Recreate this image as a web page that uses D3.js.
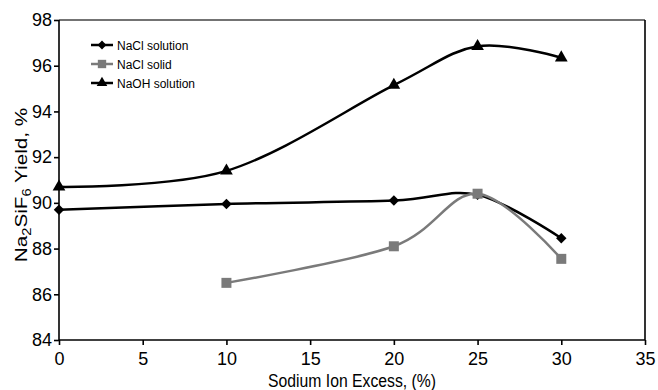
<!DOCTYPE html>
<html><head><meta charset="utf-8">
<script src="https://cdn.jsdelivr.net/npm/d3@7"></script>
<style>body{margin:0;background:#fff}svg{display:block}text{font-family:"Liberation Sans",Arial,sans-serif}</style>
</head><body>
<svg id="c" width="658" height="390"></svg>
<script>
const xTicks = [0,5,10,15,20,25,30,35];
const yTicks = [84,86,88,90,92,94,96,98];
const naclSolX = [0,10,20,25,30];
const naclSolY = [89.7,89.95,90.1,90.35,88.45];
const naclSolidX = [10,20,25,30];
const naclSolidY = [86.5,88.1,90.4,87.55];
const naohX = [0,10,20,25,30];
const naohY = [90.7,91.4,95.15,96.85,96.35];
const seriesNames = ["NaCl solution","NaCl solid","NaOH solution"];

const svg = d3.select("#c");
const m = {l:59, r:13, t:20, b:50};
const W = 658, H = 390;
const x = d3.scaleLinear().domain([0,35]).range([m.l, W-m.r]);
const y = d3.scaleLinear().domain([84,98]).range([H-m.b, m.t]);

// frame top/right
svg.append("line").attr("x1",x(0)).attr("x2",x(35)).attr("y1",y(98)).attr("y2",y(98)).attr("stroke","#444").attr("stroke-width",1.6);
svg.append("line").attr("x1",x(35)).attr("x2",x(35)).attr("y1",y(98)).attr("y2",y(84)).attr("stroke","#000").attr("stroke-width",1.6);

const xa = svg.append("g").attr("transform",`translate(0,${y(84)})`).call(d3.axisBottom(x).tickValues(xTicks).tickSize(5).tickPadding(7));
const ya = svg.append("g").attr("transform",`translate(${x(0)},0)`).call(d3.axisLeft(y).tickValues(yTicks).tickSize(5).tickPadding(2));
[xa,ya].forEach(a=>{a.selectAll("path,line").attr("stroke","#000").attr("stroke-width",1.6);a.selectAll("text").attr("font-size",18).attr("fill","#000").attr("font-family","Liberation Sans, Arial, sans-serif");});
xa.select(".domain").attr("d",`M${x(0)},0H${x(35)}`);
ya.select(".domain").attr("d",`M0,${y(98)}V${y(84)}`);

svg.append("text").attr("x",352).attr("y",H-3).attr("text-anchor","middle").attr("font-size",17.5)
  .attr("textLength",168).attr("lengthAdjust","spacingAndGlyphs").text("Sodium Ion Excess, (%)");
const yt = svg.append("text").attr("transform",`translate(27,185) rotate(-90) scale(1.22,1)`).attr("text-anchor","middle").attr("font-size",17);
yt.append("tspan").text("Na");
yt.append("tspan").attr("font-size",12).attr("dy",4).text("2");
yt.append("tspan").attr("dy",-4).text("SiF");
yt.append("tspan").attr("font-size",12).attr("dy",4).text("6");
yt.append("tspan").attr("dy",-4).text(" Yield, %");

const line = d3.line().x(d=>x(d[0])).y(d=>y(d[1])).curve(d3.curveCardinal.tension(0));
const series = [
  {name:seriesNames[0], xs:naclSolX, ys:naclSolY, color:"#000", sym:d3.symbolDiamond2, size:70},
  {name:seriesNames[1], xs:naclSolidX, ys:naclSolidY, color:"#7a7a7a", sym:d3.symbolSquare, size:100},
  {name:seriesNames[2], xs:naohX, ys:naohY, color:"#000", sym:d3.symbolTriangle, size:70}
];
series.forEach(s=>{
  const pts = s.xs.map((v,i)=>[v,s.ys[i]]);
  svg.append("path").attr("d",line(pts)).attr("fill","none").attr("stroke",s.color).attr("stroke-width",2.5);
  svg.selectAll(null).data(pts).enter().append("path")
    .attr("d",d3.symbol().type(s.sym).size(s.size))
    .attr("transform",d=>`translate(${x(d[0])},${y(d[1])})`).attr("fill",s.color);
});

// legend
series.forEach((s,i)=>{
  const ly = 45 + i*19;
  svg.append("line").attr("x1",91).attr("x2",113).attr("y1",ly).attr("y2",ly).attr("stroke",s.color).attr("stroke-width",2.5);
  svg.append("path").attr("d",d3.symbol().type(s.sym).size(s.size*0.7)).attr("transform",`translate(102,${ly})`).attr("fill",s.color);
  svg.append("text").attr("x",117).attr("y",ly+4.5).attr("font-size",12).text(s.name);
});
</script>
</body></html>
